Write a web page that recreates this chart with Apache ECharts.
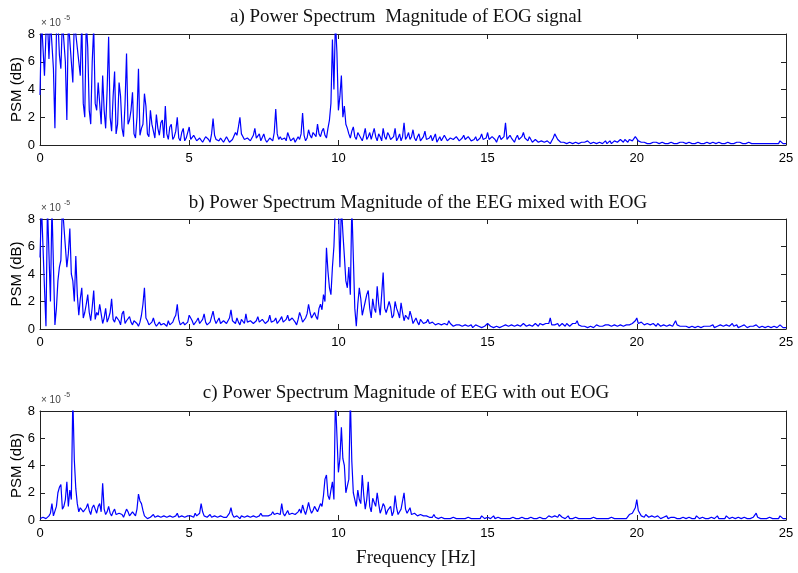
<!DOCTYPE html>
<html>
<head>
<meta charset="utf-8">
<script src="https://cdn.jsdelivr.net/npm/echarts@6/dist/echarts.min.js"></script>
<style>
html,body{margin:0;padding:0;background:#fff;}
#chart{width:798px;height:573px;}
</style>
</head>
<body>
<div id="chart"></div>
<script>
// Frequency grid (Hz): main samples at 0.0,0.1,...,25.0 and mid samples at 0.05,0.15,...,24.95
const freqStep = 0.1;
const xTicks = [0, 5, 10, 15, 20, 25];
const yTicks = [0, 2, 4, 6, 8];

// PSM values in units of 1e-5 (values above 8 are clipped by the axis)
const psmEOG = [
 3.6,9,8,6.2,9,1.2,9,5.5,9,1.8,
 7.5,4.5,9,6,9,2,7,1.5,8.5,2.5,
 3,5,1.2,7.8,1,5.3,1.5,3.5,0.6,6.6,
 1.8,3.8,0.5,5.5,1.2,3.7,0.8,2.5,1,2.2,
 0.7,1.8,2.8,0.4,1.5,0.6,2.0,0.3,1.2,0.5,
 1.3,0.3,0.8,0.2,0.6,0.3,0.5,0.2,1.9,0.4,
 0.3,0.6,0.2,0.4,0.3,0.5,0.7,2.0,0.9,0.3,
 0.6,0.2,1.2,0.4,0.3,0.8,0.2,0.5,0.3,2.6,
 0.4,0.4,0.5,0.9,0.3,0.5,0.2,0.4,2.3,0.3,
 1.1,0.5,1.0,1.5,0.6,1.2,0.5,1.8,7.6,9,
 2.5,5.0,2.8,1.2,0.5,1.3,0.4,1.0,0.3,1.2,
 0.6,0.4,1.2,0.3,0.6,1.2,0.4,0.7,0.3,1.2,
 0.5,0.3,1.6,0.6,0.4,1.1,0.3,0.8,0.4,1.0,
 0.3,0.7,0.4,0.2,0.6,0.3,0.5,0.2,0.6,0.3,
 0.5,0.2,0.7,0.3,0.5,0.2,0.6,0.3,0.8,0.3,
 0.9,0.3,0.6,0.2,0.7,0.3,1.6,0.3,0.5,0.2,
 0.7,0.3,0.9,0.4,0.6,0.2,0.4,0.2,0.3,0.2,
 0.3,0.1,0.5,0.7,0.3,0.1,0.1,0.1,0.2,0.1,
 0.2,0.1,0.3,0.1,0.3,0.2,0.3,0.1,0.3,0.2,
 0.1,0.3,0.2,0.4,0.1,0.3,0.4,0.2,0.5,0.3,
 0.7,0.2,0.1,0.1,0.2,0.1,0.1,0.3,0.1,0.1,
 0.2,0.1,0.1,0.2,0.1,0.1,0.3,0.1,0.1,0.2,
 0.1,0.1,0.2,0.1,0.3,0.1,0.2,0.1,0.1,0.2,
 0.1,0.1,0.2,0.1,0.1,0.3,0.1,0.1,0.1,0.1,
 0.1,0.1,0.1,0.1,0.1,0.1,0.1,0.1,0.3,0.1,
 0.1
];
const psmEOGMid = [
 9,5,9,9,5.5,8,6.5,9,6,9,
 6,9,7,5,3,9,2.5,6,3,4.5,
 1.5,2.5,4,2,3.5,0.8,4.5,1.2,3,1.5,
 2.5,0.8,2,0.7,1.5,2.8,0.6,1.5,0.5,1.2,
 1.6,0.5,0.8,1.3,0.4,1.0,0.5,0.9,0.3,0.6,
 0.4,0.7,0.3,0.5,0.2,0.6,0.4,0.8,0.7,0.3,
 0.5,0.2,0.6,0.2,0.4,0.9,1.3,0.8,0.4,0.5,
 0.3,0.7,0.5,0.8,0.2,0.4,0.3,0.6,0.9,0.8,
 0.6,0.5,0.3,0.6,0.4,0.2,0.6,0.8,0.7,0.5,
 0.7,0.9,0.6,0.8,1.0,0.7,1.2,3,4,6.7,
 3.5,2,1.5,0.8,1.0,0.6,0.9,0.5,0.7,0.4,
 0.9,0.5,0.6,0.8,0.3,0.6,0.9,0.4,0.6,0.3,
 0.8,0.6,0.4,0.9,0.6,0.5,0.6,0.3,0.6,0.4,
 0.5,0.3,0.8,0.4,0.3,0.7,0.3,0.5,0.4,0.6,
 0.3,0.5,0.4,0.6,0.3,0.4,0.3,0.5,0.4,0.5,
 0.4,0.6,0.4,0.5,0.4,0.6,0.4,0.7,0.4,0.5,
 0.4,0.6,0.5,0.3,0.4,0.3,0.5,0.3,0.4,0.3,
 0.2,0.3,0.8,0.4,0.2,0.2,0.1,0.2,0.1,0.2,
 0.1,0.2,0.2,0.3,0.1,0.2,0.1,0.2,0.1,0.3,
 0.2,0.1,0.3,0.2,0.4,0.2,0.3,0.4,0.3,0.6,
 0.3,0.2,0.2,0.1,0.1,0.2,0.2,0.1,0.2,0.1,
 0.1,0.2,0.1,0.1,0.2,0.2,0.1,0.2,0.1,0.1,
 0.2,0.1,0.1,0.2,0.1,0.2,0.1,0.2,0.1,0.1,
 0.2,0.1,0.1,0.2,0.2,0.1,0.1,0.2,0.1,0.1,
 0.1,0.1,0.1,0.1,0.1,0.1,0.1,0.1,0.2,0.1
];

const psmMixed = [
 5.2,9,0.2,9,9,0.3,3.5,5,9,4.5,
 7.3,3.5,5.3,1.0,3.0,1.2,2.5,0.6,2.8,1.2,
 1.8,0.4,1.5,0.8,2.2,0.5,1.0,0.3,1.3,0.6,
 0.9,0.3,0.7,0.2,1.0,3.0,0.6,0.4,0.8,0.2,
 0.5,0.2,0.3,0.6,0.2,0.8,1.8,0.3,0.5,0.2,
 1.0,0.6,0.3,0.8,0.4,1.1,0.3,0.5,1.3,0.4,
 0.8,0.3,0.6,0.3,1.4,0.5,0.8,0.3,0.6,1.1,
 0.4,0.7,0.3,0.9,0.4,0.6,0.3,1.0,0.4,0.8,
 0.5,0.9,0.4,1.0,0.5,0.7,0.3,1.2,0.5,0.8,
 1.8,0.8,1.2,0.7,1.8,2.5,5.9,3.0,4.5,9,
 9,9,5.3,3.0,2.5,9,0.2,3.0,1.0,2.0,
 2.8,0.8,1.5,3.1,1.0,4.1,1.2,2.0,0.8,2.0,
 1.2,1.9,0.6,1.0,1.3,0.4,0.8,0.3,0.6,0.3,
 0.7,0.3,0.4,0.2,0.5,0.2,0.3,0.6,0.3,0.1,
 0.2,0.3,0.1,0.3,0.2,0.1,0.3,0.2,0.1,0.2,
 0.4,0.2,0.1,0.2,0.1,0.2,0.3,0.2,0.3,0.2,
 0.3,0.2,0.4,0.2,0.3,0.2,0.4,0.2,0.3,0.2,
 0.3,0.8,0.2,0.3,0.2,0.4,0.2,0.3,0.2,0.3,
 0.6,0.2,0.1,0.2,0.1,0.2,0.1,0.2,0.3,0.2,
 0.2,0.3,0.2,0.3,0.2,0.3,0.2,0.4,0.3,0.5,
 0.8,0.3,0.4,0.2,0.3,0.2,0.3,0.4,0.2,0.3,
 0.2,0.3,0.2,0.6,0.2,0.3,0.1,0.2,0.1,0.2,
 0.1,0.2,0.1,0.2,0.3,0.2,0.1,0.2,0.3,0.2,
 0.3,0.2,0.4,0.2,0.1,0.2,0.3,0.1,0.2,0.2,
 0.3,0.1,0.2,0.1,0.2,0.1,0.2,0.1,0.3,0.1,
 0.1
];
const psmMixedMid = [
 9,3,9,2,9,1.5,4.5,9,6,5.5,
 4,2,2.5,2.2,0.8,1.8,1.2,1.6,0.7,1.0,
 1.1,0.8,0.5,1.2,0.7,0.9,0.6,1.1,0.4,0.7,
 0.5,0.6,0.4,0.5,1.8,0.8,0.3,0.5,0.4,0.3,
 0.3,0.4,0.2,0.3,0.5,1.0,0.7,0.4,0.3,0.5,
 0.8,0.3,0.6,0.4,0.7,0.5,0.4,0.6,0.7,0.5,
 0.4,0.6,0.4,0.8,0.6,0.4,0.5,0.7,0.4,0.5,
 0.6,0.4,0.6,0.5,0.7,0.4,0.6,0.5,0.6,0.4,
 0.7,0.5,0.7,0.6,0.8,0.5,0.7,0.9,0.6,1.1,
 1.2,1.0,0.9,1.5,1.4,2.0,4.2,2.5,6.0,9,
 4.5,7,3.5,4.5,9,1.5,1.8,2.2,1.5,2.5,
 1.5,2.2,1.2,1.8,2.5,1.5,1.3,1.6,1.0,1.5,
 0.8,1.2,1.0,0.7,0.9,0.6,0.5,0.7,0.4,0.5,
 0.4,0.5,0.3,0.4,0.3,0.4,0.3,0.4,0.2,0.3,
 0.3,0.2,0.3,0.2,0.3,0.2,0.2,0.3,0.2,0.3,
 0.3,0.2,0.2,0.3,0.2,0.3,0.2,0.3,0.2,0.3,
 0.2,0.3,0.3,0.3,0.4,0.3,0.3,0.4,0.3,0.4,
 0.4,0.3,0.3,0.4,0.3,0.3,0.4,0.2,0.4,0.4,
 0.3,0.2,0.2,0.1,0.2,0.1,0.3,0.2,0.2,0.3,
 0.3,0.2,0.3,0.2,0.3,0.2,0.3,0.3,0.4,0.6,
 0.4,0.5,0.3,0.4,0.3,0.4,0.2,0.3,0.3,0.2,
 0.3,0.2,0.4,0.3,0.2,0.2,0.2,0.1,0.2,0.1,
 0.2,0.1,0.2,0.2,0.2,0.3,0.2,0.2,0.2,0.3,
 0.2,0.3,0.2,0.3,0.2,0.2,0.2,0.2,0.1,0.2,
 0.2,0.2,0.1,0.2,0.1,0.2,0.1,0.2,0.2,0.1
];

const psmClean = [
 0.1,0.2,0.1,0.3,1.2,0.4,2.0,2.6,1.0,2.8,
 2.2,9,2.3,0.6,1.0,0.5,1.2,0.4,1.1,0.5,
 1.2,2.7,0.4,1.0,0.3,0.8,0.4,0.6,0.2,0.8,
 0.3,0.6,0.3,1.9,1.2,0.3,0.1,0.2,0.4,0.1,
 0.3,0.2,0.4,0.1,0.3,0.2,0.5,0.1,0.3,0.2,
 0.4,0.2,0.5,0.2,1.2,0.3,0.2,0.4,0.1,0.3,
 0.2,0.4,0.1,0.3,0.9,0.2,0.3,0.1,0.4,0.2,
 0.3,0.1,0.4,0.2,0.5,0.2,0.4,0.2,0.6,0.3,
 0.5,1.2,0.3,0.7,0.4,0.6,0.3,0.8,1.1,0.4,
 1.3,0.5,1.0,0.6,1.2,1.8,3.3,1.5,2.8,9,
 3.5,6.8,4.0,2.5,9,2.0,1.0,1.5,3.3,0.8,
 2.8,0.6,1.5,2.0,0.5,1.2,0.4,0.8,0.3,1.8,
 0.4,0.8,2.0,0.5,0.9,0.3,0.6,0.2,0.5,0.2,
 0.3,0.1,0.4,0.2,0.1,0.2,0.1,0.2,0.1,0.1,
 0.1,0.2,0.1,0.1,0.2,0.1,0.1,0.2,0.3,0.1,
 0.2,0.1,0.3,0.1,0.1,0.2,0.1,0.2,0.1,0.1,
 0.2,0.1,0.1,0.2,0.1,0.2,0.1,0.1,0.3,0.2,
 0.2,0.4,0.3,0.2,0.4,0.2,0.1,0.3,0.2,0.1,
 0.2,0.1,0.1,0.2,0.1,0.1,0.2,0.1,0.1,0.2,
 0.1,0.1,0.2,0.1,0.1,0.2,0.1,0.2,0.3,0.6,
 1.5,0.5,0.3,0.4,0.2,0.3,0.2,0.3,0.1,0.2,
 0.3,0.1,0.2,0.3,0.2,0.1,0.2,0.1,0.2,0.1,
 0.3,0.1,0.2,0.1,0.1,0.2,0.1,0.3,0.1,0.2,
 0.3,0.1,0.2,0.1,0.2,0.1,0.2,0.1,0.1,0.2,
 0.5,0.1,0.2,0.1,0.1,0.2,0.1,0.1,0.3,0.1,
 0.1
];
const psmCleanMid = [
 0.2,0.1,0.2,0.5,0.3,1.0,2.4,0.8,1.5,1.0,
 1.5,4.4,1.2,0.9,0.6,0.9,0.7,0.9,0.8,1.0,
 0.6,0.8,0.6,0.5,0.6,0.4,0.5,0.4,0.5,0.6,
 0.4,0.5,0.8,1.4,0.7,0.4,0.2,0.3,0.2,0.3,
 0.2,0.3,0.2,0.3,0.2,0.3,0.2,0.3,0.2,0.3,
 0.3,0.2,0.3,0.5,0.6,0.2,0.3,0.2,0.3,0.2,
 0.3,0.2,0.2,0.5,0.4,0.2,0.2,0.3,0.2,0.3,
 0.2,0.3,0.2,0.3,0.3,0.3,0.3,0.4,0.4,0.5,
 0.4,0.5,0.5,0.4,0.5,0.4,0.6,0.5,0.7,0.8,
 0.8,0.7,0.8,0.9,1.0,3.0,1.8,2.2,1.5,9,
 4.5,4.5,2.0,3.0,4.3,1.5,2.2,1.2,1.8,1.5,
 1.0,1.6,1.0,1.2,0.8,1.0,0.7,1.0,0.6,0.9,
 0.6,0.9,0.8,0.6,0.4,0.5,0.3,0.4,0.3,0.3,
 0.2,0.2,0.2,0.1,0.2,0.1,0.1,0.1,0.2,0.1,
 0.1,0.1,0.1,0.2,0.1,0.1,0.1,0.1,0.2,0.1,
 0.3,0.2,0.1,0.2,0.1,0.1,0.1,0.1,0.2,0.1,
 0.1,0.2,0.1,0.1,0.2,0.1,0.1,0.2,0.1,0.1,
 0.3,0.2,0.3,0.2,0.3,0.1,0.2,0.1,0.1,0.2,
 0.1,0.1,0.1,0.1,0.1,0.2,0.1,0.1,0.1,0.1,
 0.1,0.2,0.1,0.1,0.1,0.1,0.1,0.4,0.5,0.9,
 0.7,0.3,0.2,0.3,0.2,0.2,0.3,0.2,0.1,0.2,
 0.1,0.2,0.2,0.1,0.1,0.2,0.1,0.2,0.1,0.1,
 0.2,0.1,0.1,0.2,0.1,0.1,0.2,0.1,0.1,0.1,
 0.2,0.1,0.1,0.2,0.1,0.1,0.2,0.1,0.1,0.2,
 0.2,0.1,0.1,0.1,0.2,0.1,0.1,0.1,0.2,0.1
];

const panelTitles = [
 'a) Power Spectrum  Magnitude of EOG signal',
 'b) Power Spectrum Magnitude of the EEG mixed with EOG',
 'c) Power Spectrum Magnitude of EEG with out EOG'
];
const yName = 'PSM (dB)';
const xName = 'Frequency [Hz]';

const panels = [[psmEOG, psmEOGMid], [psmMixed, psmMixedMid], [psmClean, psmCleanMid]];
const grids = [
 {left: 40, top: 34, width: 746, height: 111, outerBoundsMode: 'none', containLabel: false},
 {left: 40, top: 219, width: 746, height: 110, outerBoundsMode: 'none', containLabel: false},
 {left: 40, top: 411, width: 746, height: 109, outerBoundsMode: 'none', containLabel: false}
];
const titleY = [17, 203, 393];
const titleX = [406, 418, 406];

function buildSeriesData(main, mid) {
  const out = [];
  main.forEach((v, k) => {
    out.push([+(k * freqStep).toFixed(2), v]);
    if (k < mid.length) out.push([+(k * freqStep + freqStep / 2).toFixed(2), mid[k]]);
  });
  return out;
}

const chart = echarts.init(document.getElementById('chart'), null, {renderer: 'canvas'});
const axisColor = '#222';
const sans = 'Liberation Sans';

const xAxes = [], yAxes = [], series = [], graphics = [];
panels.forEach((pair, i) => {
  xAxes.push({
    type: 'value', gridIndex: i, min: 0, max: 25, interval: 5, position: 'bottom',
    axisLine: {show: true, onZero: false, lineStyle: {color: axisColor, width: 1}},
    axisTick: {show: true, inside: true, length: 5, lineStyle: {color: axisColor}},
    axisLabel: {show: true, color: '#000', fontFamily: sans, fontSize: 13, margin: 7,
      formatter: v => xTicks.includes(v) ? String(v) : ''},
    splitLine: {show: false}
  });
  xAxes.push({
    type: 'value', gridIndex: i, min: 0, max: 25, interval: 5, position: 'top',
    axisLine: {show: true, onZero: false, lineStyle: {color: axisColor, width: 1}},
    axisTick: {show: true, inside: true, length: 5, lineStyle: {color: axisColor}},
    axisLabel: {show: false}, splitLine: {show: false}
  });
  yAxes.push({
    type: 'value', gridIndex: i, min: 0, max: 8, interval: 2, position: 'left',
    name: yName, nameLocation: 'middle', nameGap: 16, nameRotate: 90, nameMoveOverlap: false,
    nameTextStyle: {color: '#000', fontFamily: sans, fontSize: 15},
    axisLine: {show: true, onZero: false, lineStyle: {color: axisColor, width: 1}},
    axisTick: {show: true, inside: true, length: 5, lineStyle: {color: axisColor}},
    axisLabel: {show: true, color: '#000', fontFamily: sans, fontSize: 13, margin: 5,
      formatter: v => yTicks.includes(v) ? String(v) : ''},
    splitLine: {show: false}
  });
  yAxes.push({
    type: 'value', gridIndex: i, min: 0, max: 8, interval: 2, position: 'right',
    axisLine: {show: true, onZero: false, lineStyle: {color: axisColor, width: 1}},
    axisTick: {show: true, inside: true, length: 5, lineStyle: {color: axisColor}},
    axisLabel: {show: false}, splitLine: {show: false}
  });
  series.push({
    type: 'line', xAxisIndex: i * 2, yAxisIndex: i * 2,
    data: buildSeriesData(pair[0], pair[1]),
    showSymbol: false, symbol: 'none', clip: true, smooth: false,
    lineStyle: {color: '#0000ff', width: 1.2}, z: 1
  });
  graphics.push({
    type: 'text', style: {text: panelTitles[i], x: titleX[i], y: titleY[i],
      align: 'center', verticalAlign: 'middle', font: '19px "Liberation Serif"', fill: '#111'}
  });
  graphics.push({
    type: 'text', style: {text: '\u00d7 10', x: 41, y: grids[i].top - 11,
      align: 'left', verticalAlign: 'middle', font: '10px "Liberation Sans"', fill: '#444'}
  });
  graphics.push({
    type: 'text', style: {text: '-5', x: 64, y: grids[i].top - 16,
      align: 'left', verticalAlign: 'middle', font: '7px "Liberation Sans"', fill: '#444'}
  });
});
graphics.push({
  type: 'text', style: {text: xName, x: 416, y: 558, align: 'center', verticalAlign: 'middle',
    font: '19px "Liberation Serif"', fill: '#111'}
});

chart.setOption({
  animation: false,
  backgroundColor: '#fff',
  grid: grids,
  xAxis: xAxes,
  yAxis: yAxes,
  series: series,
  graphic: graphics
});
</script>
</body>
</html>
